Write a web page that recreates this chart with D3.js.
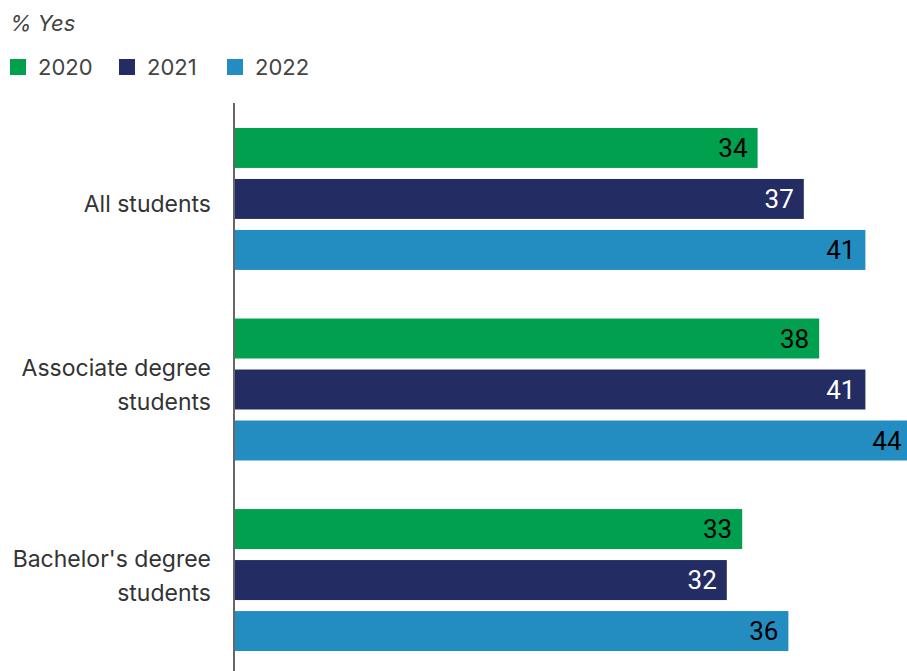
<!DOCTYPE html>
<html><head><meta charset="utf-8">
<script src="https://cdn.jsdelivr.net/npm/d3@7"></script>
<style>body{margin:0;background:#fff;} svg{display:block;font-family:Inter, "Noto Sans", sans-serif;}</style>
</head><body>
<script>
const categories = ["All students", "Associate degree students", "Bachelor's degree students"];
const categoryLines = [["All students"], ["Associate degree", "students"], ["Bachelor's degree", "students"]];
const seriesNames = ["2020", "2021", "2022"];
const values2020 = [34, 38, 33];
const values2021 = [37, 41, 32];
const values2022 = [41, 44, 36];
const colors = ["#00A04F", "#232C63", "#238DC1"];
const labelColors = ["#000", "#fff", "#000"];
const unitLabel = "% Yes";

const W = 907, H = 671;
const svg = d3.select("body").append("svg").attr("width", W).attr("height", H);

const seriesValues = [values2020, values2021, values2022];
const x = d3.scaleLinear().domain([0, 44]).range([234, 911.6]);
const y0 = d3.scaleBand().domain(categories).range([103, 676]).paddingInner(0.255).paddingOuter(0.131);
const y1 = d3.scaleBand().domain(seriesNames).range([0, y0.bandwidth()]).paddingInner(0.216).paddingOuter(0);

// title
svg.append("text").attr("x", 10).attr("y", 31).attr("font-size", 22).attr("font-style", "italic")
  .attr("fill", "#444").text(unitLabel);

// legend
const legendX = [10, 119, 227];
const lg = svg.append("g");
seriesNames.forEach((s, i) => {
  lg.append("rect").attr("x", legendX[i]).attr("y", 59).attr("width", 16).attr("height", 16).attr("fill", colors[i]);
  lg.append("text").attr("x", legendX[i] + 28).attr("y", 75).attr("font-size", 22).attr("fill", "#444").text(s);
});

// bars
categories.forEach((c, ci) => {
  const g = svg.append("g").attr("transform", `translate(0,${y0(c)})`);
  seriesNames.forEach((s, si) => {
    const v = seriesValues[si][ci];
    g.append("rect").attr("x", x(0)).attr("y", y1(s)).attr("width", x(v) - x(0)).attr("height", y1.bandwidth()).attr("fill", colors[si]);
    g.append("text").attr("x", x(v) - 10).attr("y", y1(s) + y1.bandwidth() / 2).attr("dy", "0.36em")
      .attr("text-anchor", "end").attr("font-family", "Roboto, Inter, sans-serif")
      .attr("font-size", 26).attr("fill", labelColors[si]).text(v);
  });
  // category label
  const cy = y0(c) + y0.bandwidth() / 2;
  const lines = categoryLines[ci];
  const n = lines.length;
  const t = svg.append("text").attr("text-anchor", "end").attr("font-size", 23).attr("fill", "#333");
  lines.forEach((l, i) => {
    const base = n === 1 ? cy + 13 : cy - 13.5 + 34 * i;
    t.append("tspan").attr("x", 211).attr("y", base).text(l);
  });
});

// axis line
svg.append("line").attr("x1", x(0)).attr("x2", x(0)).attr("y1", 103).attr("y2", H)
  .attr("stroke", "#666").attr("stroke-width", 2);
</script>
</body></html>
